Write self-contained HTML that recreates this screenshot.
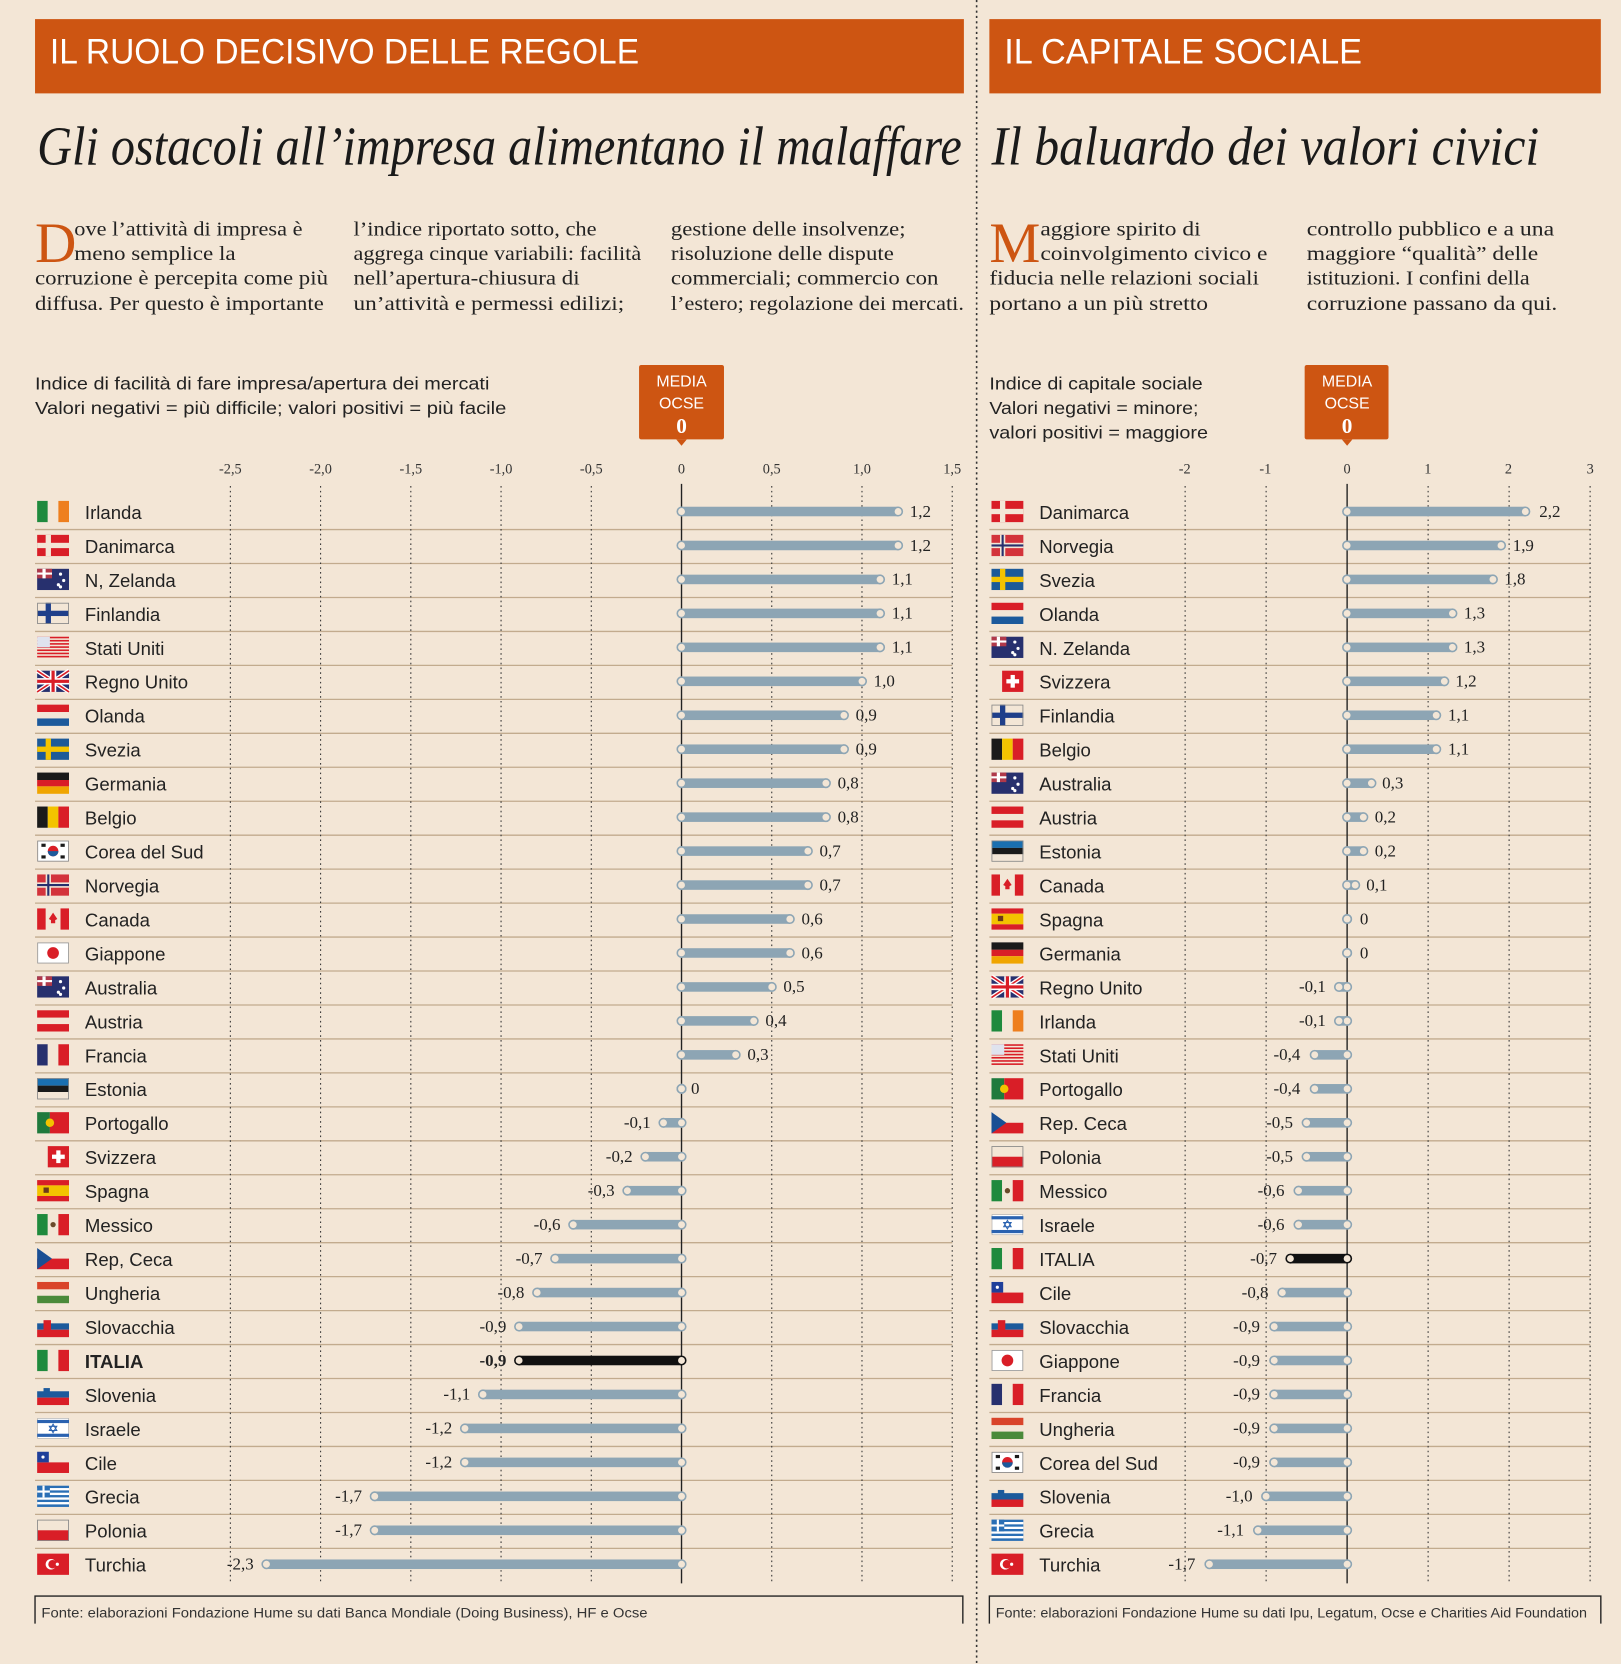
<!DOCTYPE html>
<html><head><meta charset="utf-8"><style>
html,body{margin:0;padding:0;background:#f3e6d6}
svg{display:block}
.h{font-family:"Liberation Sans",sans-serif;fill:#fff}
.t{font-family:"Liberation Serif",serif;font-style:italic;fill:#1a1a1a}
.p{font-family:"Liberation Serif",serif;font-size:19px;fill:#222}
.s{font-family:"Liberation Sans",sans-serif;font-size:16.5px;fill:#222}
.c{font-family:"Liberation Sans",sans-serif;font-size:17.5px;fill:#222}
.v{font-family:"Liberation Serif",serif;font-size:16px;fill:#222}
.k{font-family:"Liberation Serif",serif;font-size:13.5px;fill:#333;text-anchor:middle}
.f{font-family:"Liberation Sans",sans-serif;font-size:13px;fill:#333}
</style></head><body>
<svg id="g" width="1621" height="1664" viewBox="0 0 1527 1568" preserveAspectRatio="none" xmlns="http://www.w3.org/2000/svg">
<rect width="1527" height="1568" fill="#f3e6d6"/>
<line x1="920" y1="0" x2="920" y2="1568" stroke="#333" stroke-width="1.5" stroke-dasharray="2,3"/>
<rect x="33" y="18" width="875" height="70" fill="#cd5512"/>
<rect x="932" y="18" width="576" height="70" fill="#cd5512"/>
<text class="h" x="47" y="60" font-size="33" textLength="555" lengthAdjust="spacingAndGlyphs">IL RUOLO DECISIVO DELLE REGOLE</text>
<text class="h" x="946" y="60" font-size="33" textLength="337" lengthAdjust="spacingAndGlyphs">IL CAPITALE SOCIALE</text>
<text class="t" x="35" y="155" font-size="52" textLength="871" lengthAdjust="spacingAndGlyphs">Gli ostacoli all’impresa alimentano il malaffare</text>
<text class="t" x="934" y="155" font-size="52" textLength="516" lengthAdjust="spacingAndGlyphs">Il baluardo dei valori civici</text>

<text x="33" y="247" font-family="Liberation Serif,serif" font-size="54" fill="#cd5512">D</text>
<text class="p" x="70" y="222" textLength="215" lengthAdjust="spacingAndGlyphs">ove l’attività di impresa è</text>
<text class="p" x="70" y="245" textLength="152" lengthAdjust="spacingAndGlyphs">meno semplice la</text>
<text class="p" x="33" y="268" textLength="276" lengthAdjust="spacingAndGlyphs">corruzione è percepita come più</text>
<text class="p" x="33" y="292" textLength="272" lengthAdjust="spacingAndGlyphs">diffusa. Per questo è importante</text>
<text class="p" x="333" y="222" textLength="229" lengthAdjust="spacingAndGlyphs">l’indice riportato sotto, che</text>
<text class="p" x="333" y="245" textLength="271" lengthAdjust="spacingAndGlyphs">aggrega cinque variabili: facilità</text>
<text class="p" x="333" y="268" textLength="213" lengthAdjust="spacingAndGlyphs">nell’apertura-chiusura di</text>
<text class="p" x="333" y="292" textLength="255" lengthAdjust="spacingAndGlyphs">un’attività e permessi edilizi;</text>
<text class="p" x="632" y="222" textLength="221" lengthAdjust="spacingAndGlyphs">gestione delle insolvenze;</text>
<text class="p" x="632" y="245" textLength="210" lengthAdjust="spacingAndGlyphs">risoluzione delle dispute</text>
<text class="p" x="632" y="268" textLength="252" lengthAdjust="spacingAndGlyphs">commerciali; commercio con</text>
<text class="p" x="632" y="292" textLength="276" lengthAdjust="spacingAndGlyphs">l’estero; regolazione dei mercati.</text>

<text x="932" y="247" font-family="Liberation Serif,serif" font-size="54" fill="#cd5512">M</text>
<text class="p" x="980" y="222" textLength="151" lengthAdjust="spacingAndGlyphs">aggiore spirito di</text>
<text class="p" x="980" y="245" textLength="214" lengthAdjust="spacingAndGlyphs">coinvolgimento civico e</text>
<text class="p" x="932" y="268" textLength="254" lengthAdjust="spacingAndGlyphs">fiducia nelle relazioni sociali</text>
<text class="p" x="932" y="292" textLength="206" lengthAdjust="spacingAndGlyphs">portano a un più stretto</text>
<text class="p" x="1231" y="222" textLength="233" lengthAdjust="spacingAndGlyphs">controllo pubblico e a una</text>
<text class="p" x="1231" y="245" textLength="218" lengthAdjust="spacingAndGlyphs">maggiore “qualità” delle</text>
<text class="p" x="1231" y="268" textLength="210" lengthAdjust="spacingAndGlyphs">istituzioni. I confini della</text>
<text class="p" x="1231" y="292" textLength="236" lengthAdjust="spacingAndGlyphs">corruzione passano da qui.</text>

<text class="s" x="33" y="367" textLength="428" lengthAdjust="spacingAndGlyphs">Indice di facilità di fare impresa/apertura dei mercati</text>
<text class="s" x="33" y="390" textLength="444" lengthAdjust="spacingAndGlyphs">Valori negativi = più difficile; valori positivi = più facile</text>
<text class="s" x="932" y="367" textLength="201" lengthAdjust="spacingAndGlyphs">Indice di capitale sociale</text>
<text class="s" x="932" y="390" textLength="197" lengthAdjust="spacingAndGlyphs">Valori negativi = minore;</text>
<text class="s" x="932" y="413" textLength="206" lengthAdjust="spacingAndGlyphs">valori positivi = maggiore</text>

<g>
<rect x="602" y="344" width="80" height="70" rx="2" fill="#cd5512"/><path d="M637 414 L642 420 L647 414Z" fill="#cd5512"/>
<text x="642" y="364" font-family="Liberation Sans,sans-serif" font-size="15" fill="#fff" text-anchor="middle">MEDIA</text>
<text x="642" y="385" font-family="Liberation Sans,sans-serif" font-size="15" fill="#fff" text-anchor="middle">OCSE</text>
<text x="642" y="408" font-family="Liberation Serif,serif" font-size="20" font-weight="bold" fill="#fff" text-anchor="middle">0</text>
<rect x="1229" y="344" width="79" height="70" rx="2" fill="#cd5512"/><path d="M1264 414 L1269 420 L1274 414Z" fill="#cd5512"/>
<text x="1269" y="364" font-family="Liberation Sans,sans-serif" font-size="15" fill="#fff" text-anchor="middle">MEDIA</text>
<text x="1269" y="385" font-family="Liberation Sans,sans-serif" font-size="15" fill="#fff" text-anchor="middle">OCSE</text>
<text x="1269" y="408" font-family="Liberation Serif,serif" font-size="20" font-weight="bold" fill="#fff" text-anchor="middle">0</text>
</g>

<text class="k" x="217" y="446">-2,5</text><text class="k" x="302" y="446">-2,0</text><text class="k" x="387" y="446">-1,5</text><text class="k" x="472" y="446">-1,0</text><text class="k" x="557" y="446">-0,5</text><text class="k" x="642" y="446">0</text><text class="k" x="727" y="446">0,5</text><text class="k" x="812" y="446">1,0</text><text class="k" x="897" y="446">1,5</text>
<text class="k" x="1116" y="446">-2</text><text class="k" x="1192" y="446">-1</text><text class="k" x="1269" y="446">0</text><text class="k" x="1345" y="446">1</text><text class="k" x="1421" y="446">2</text><text class="k" x="1498" y="446">3</text>

<g id="L">
<text class="c" x="80" y="489">Irlanda</text><text class="c" x="80" y="521">Danimarca</text><text class="c" x="80" y="553">N, Zelanda</text><text class="c" x="80" y="585">Finlandia</text><text class="c" x="80" y="617">Stati Uniti</text><text class="c" x="80" y="649">Regno Unito</text><text class="c" x="80" y="681">Olanda</text><text class="c" x="80" y="713">Svezia</text><text class="c" x="80" y="745">Germania</text><text class="c" x="80" y="777">Belgio</text><text class="c" x="80" y="809">Corea del Sud</text><text class="c" x="80" y="841">Norvegia</text><text class="c" x="80" y="873">Canada</text><text class="c" x="80" y="905">Giappone</text><text class="c" x="80" y="937">Australia</text><text class="c" x="80" y="969">Austria</text><text class="c" x="80" y="1001">Francia</text><text class="c" x="80" y="1033">Estonia</text><text class="c" x="80" y="1065">Portogallo</text><text class="c" x="80" y="1097">Svizzera</text><text class="c" x="80" y="1129">Spagna</text><text class="c" x="80" y="1161">Messico</text><text class="c" x="80" y="1193">Rep, Ceca</text><text class="c" x="80" y="1225">Ungheria</text><text class="c" x="80" y="1257">Slovacchia</text><text class="c" x="80" y="1289" font-weight="bold">ITALIA</text><text class="c" x="80" y="1321">Slovenia</text><text class="c" x="80" y="1353">Israele</text><text class="c" x="80" y="1385">Cile</text><text class="c" x="80" y="1417">Grecia</text><text class="c" x="80" y="1449">Polonia</text><text class="c" x="80" y="1481">Turchia</text>
</g>
<g id="R">
<text class="c" x="979" y="489">Danimarca</text><text class="c" x="979" y="521">Norvegia</text><text class="c" x="979" y="553">Svezia</text><text class="c" x="979" y="585">Olanda</text><text class="c" x="979" y="617">N. Zelanda</text><text class="c" x="979" y="649">Svizzera</text><text class="c" x="979" y="681">Finlandia</text><text class="c" x="979" y="713">Belgio</text><text class="c" x="979" y="745">Australia</text><text class="c" x="979" y="777">Austria</text><text class="c" x="979" y="809">Estonia</text><text class="c" x="979" y="841">Canada</text><text class="c" x="979" y="873">Spagna</text><text class="c" x="979" y="905">Germania</text><text class="c" x="979" y="937">Regno Unito</text><text class="c" x="979" y="969">Irlanda</text><text class="c" x="979" y="1001">Stati Uniti</text><text class="c" x="979" y="1033">Portogallo</text><text class="c" x="979" y="1065">Rep. Ceca</text><text class="c" x="979" y="1097">Polonia</text><text class="c" x="979" y="1129">Messico</text><text class="c" x="979" y="1161">Israele</text><text class="c" x="979" y="1193">ITALIA</text><text class="c" x="979" y="1225">Cile</text><text class="c" x="979" y="1257">Slovacchia</text><text class="c" x="979" y="1289">Giappone</text><text class="c" x="979" y="1321">Francia</text><text class="c" x="979" y="1353">Ungheria</text><text class="c" x="979" y="1385">Corea del Sud</text><text class="c" x="979" y="1417">Slovenia</text><text class="c" x="979" y="1449">Grecia</text><text class="c" x="979" y="1481">Turchia</text>
</g>
<g id="LV">
<text class="v" x="857" y="487">1,2</text><text class="v" x="857" y="519">1,2</text><text class="v" x="840" y="551">1,1</text><text class="v" x="840" y="583">1,1</text><text class="v" x="840" y="615">1,1</text><text class="v" x="823" y="647">1,0</text><text class="v" x="806" y="679">0,9</text><text class="v" x="806" y="711">0,9</text><text class="v" x="789" y="743">0,8</text><text class="v" x="789" y="775">0,8</text><text class="v" x="772" y="807">0,7</text><text class="v" x="772" y="839">0,7</text><text class="v" x="755" y="871">0,6</text><text class="v" x="755" y="903">0,6</text><text class="v" x="738" y="935">0,5</text><text class="v" x="721" y="967">0,4</text><text class="v" x="704" y="999">0,3</text><text class="v" x="651" y="1031">0</text>
<g text-anchor="end"><text class="v" x="613" y="1063">-0,1</text><text class="v" x="596" y="1095">-0,2</text><text class="v" x="579" y="1127">-0,3</text><text class="v" x="528" y="1159">-0,6</text><text class="v" x="511" y="1191">-0,7</text><text class="v" x="494" y="1223">-0,8</text><text class="v" x="477" y="1255">-0,9</text><text class="v" x="477" y="1287" font-weight="bold">-0,9</text><text class="v" x="443" y="1319">-1,1</text><text class="v" x="426" y="1351">-1,2</text><text class="v" x="426" y="1383">-1,2</text><text class="v" x="341" y="1415">-1,7</text><text class="v" x="341" y="1447">-1,7</text><text class="v" x="239" y="1479">-2,3</text></g>
</g>
<g id="RV">
<text class="v" x="1450" y="487">2,2</text><text class="v" x="1425" y="519">1,9</text><text class="v" x="1417" y="551">1,8</text><text class="v" x="1379" y="583">1,3</text><text class="v" x="1379" y="615">1,3</text><text class="v" x="1371" y="647">1,2</text><text class="v" x="1364" y="679">1,1</text><text class="v" x="1364" y="711">1,1</text><text class="v" x="1302" y="743">0,3</text><text class="v" x="1295" y="775">0,2</text><text class="v" x="1295" y="807">0,2</text><text class="v" x="1287" y="839">0,1</text><text class="v" x="1281" y="871">0</text><text class="v" x="1281" y="903">0</text>
<g text-anchor="end"><text class="v" x="1249" y="935">-0,1</text><text class="v" x="1249" y="967">-0,1</text><text class="v" x="1225" y="999">-0,4</text><text class="v" x="1225" y="1031">-0,4</text><text class="v" x="1218" y="1063">-0,5</text><text class="v" x="1218" y="1095">-0,5</text><text class="v" x="1210" y="1127">-0,6</text><text class="v" x="1210" y="1159">-0,6</text><text class="v" x="1203" y="1191">-0,7</text><text class="v" x="1195" y="1223">-0,8</text><text class="v" x="1187" y="1255">-0,9</text><text class="v" x="1187" y="1287">-0,9</text><text class="v" x="1187" y="1319">-0,9</text><text class="v" x="1187" y="1351">-0,9</text><text class="v" x="1187" y="1383">-0,9</text><text class="v" x="1180" y="1415">-1,0</text><text class="v" x="1172" y="1447">-1,1</text><text class="v" x="1126" y="1479">-1,7</text></g>
</g>

<path d="M33 1530 V1504 H907 V1530 M932 1530 V1504 H1508 V1530" fill="none" stroke="#222" stroke-width="1.3"/>
<text class="f" x="39" y="1524" textLength="571" lengthAdjust="spacingAndGlyphs">Fonte: elaborazioni Fondazione Hume su dati Banca Mondiale (Doing Business), HF e Ocse</text>
<text class="f" x="938" y="1524" textLength="557" lengthAdjust="spacingAndGlyphs">Fonte: elaborazioni Fondazione Hume su dati Ipu, Legatum, Ocse e Charities Aid Foundation</text>
<g id="dyn"></g>
</svg>
<script>
var NS="http://www.w3.org/2000/svg",D=document.getElementById("dyn");
function el(t,a){var e=document.createElementNS(NS,t);for(var k in a)e.setAttribute(k,a[k]);D.appendChild(e);return e}
function r(x,y,w,h,c){el("rect",{x:x,y:y,width:w,height:h,fill:c})}
function ol(x,y){el("rect",{x:x+.4,y:y+.4,width:29.2,height:19.2,fill:"none",stroke:"#888","stroke-width":.8})}
var RD="#d91e27",BL="#1c5a9c",NV="#27306e",GR="#1f8a3d",YL="#f3c300",BK="#1a1a1a",W="#f3e6d6";
function vt(x,y,a,b,c){r(x,y,10,20,a);r(x+10,y,10,20,b);r(x+20,y,10,20,c)}
function ht(x,y,a,b,c){r(x,y,30,7,a);r(x,y+7,30,6,b);r(x,y+13,30,7,c)}
function cross(x,y,bg,cr,in_){r(x,y,30,20,bg);r(x+8,y,5,20,cr);r(x,y+7.5,30,5,cr);if(in_){r(x+9.5,y,2,20,in_);r(x,y+9,30,2,in_)}}
function flag(n,x,y){switch(n){
case"Irlanda":vt(x,y,GR,W,"#ee7f1e");break;
case"ITALIA":vt(x,y,GR,W,RD);break;
case"Belgio":vt(x,y,BK,YL,RD);break;
case"Francia":vt(x,y,NV,W,RD);break;
case"Messico":vt(x,y,GR,W,RD);el("circle",{cx:x+15,cy:y+10,r:2.5,fill:"#6b4a2a"});break;
case"Olanda":ht(x,y,RD,W,BL);break;
case"Germania":ht(x,y,BK,RD,"#f0a500");break;
case"Austria":ht(x,y,RD,W,RD);break;
case"Estonia":ht(x,y,"#1a6fb0",BK,W);ol(x,y);break;
case"Ungheria":ht(x,y,"#d9442a",W,"#4a8a3a");break;
case"Slovenia":ht(x,y,W,BL,RD);r(x+6,y+4,6,8,BL);break;
case"Slovacchia":ht(x,y,W,BL,RD);r(x+6,y+4,7,10,RD);break;
case"Polonia":r(x,y+10,30,10,RD);ol(x,y);break;
case"Danimarca":cross(x,y,RD,W);break;
case"Norvegia":cross(x,y,"#d3333b",W,NV);break;
case"Svezia":cross(x,y,"#1d5a98",YL);break;
case"Finlandia":cross(x,y,W,"#1f3f8a");ol(x,y);break;
case"Stati Uniti":for(var i=0;i<7;i++)r(x,y+i*3,30,1.5,RD);r(x,y,12,10,"#dfe3ee");break;
case"Regno Unito":r(x,y,30,20,"#27306e");el("path",{d:"M"+x+" "+y+"L"+(x+30)+" "+(y+20)+"M"+(x+30)+" "+y+"L"+x+" "+(y+20),stroke:"#fff","stroke-width":4});el("path",{d:"M"+x+" "+y+"L"+(x+30)+" "+(y+20)+"M"+(x+30)+" "+y+"L"+x+" "+(y+20),stroke:RD,"stroke-width":1.5});r(x+12,y,6,20,"#fff");r(x,y+7,30,6,"#fff");r(x+13.5,y,3,20,RD);r(x,y+8.5,30,3,RD);break;
case"N, Zelanda":case"N. Zelanda":case"Australia":r(x,y,30,20,"#27306e");r(x,y,14,9,"#b0394a");r(x+5,y,3,9,"#fff");r(x,y+3.5,14,2,"#fff");[[22,5],[25,11],[20,15],[22,17]].forEach(function(p){el("circle",{cx:x+p[0],cy:y+p[1],r:1.5,fill:"#fff"})});break;
case"Corea del Sud":el("rect",{x:x+.5,y:y+.5,width:29,height:19,fill:"#fff",stroke:"#888","stroke-width":.8});el("circle",{cx:x+15,cy:y+10,r:5,fill:RD});el("path",{d:"M"+(x+10)+" "+(y+10)+"a5 5 0 0 0 10 0z",fill:BL});r(x+4,y+3,4,3,BK);r(x+22,y+3,4,3,BK);r(x+4,y+14,4,3,BK);r(x+22,y+14,4,3,BK);break;
case"Canada":r(x,y,8,20,RD);r(x+22,y,8,20,RD);el("path",{d:"M"+(x+15)+" "+(y+4)+"l4 6-2 1v3h-4v-3l-2-1z",fill:RD});break;
case"Giappone":el("rect",{x:x+.5,y:y+.5,width:29,height:19,fill:"#fff",stroke:"#999","stroke-width":.8});el("circle",{cx:x+15,cy:y+10,r:5.5,fill:RD});break;
case"Svizzera":r(x+10,y,20,20,RD);r(x+18,y+4,4,12,"#fff");r(x+14,y+8,12,4,"#fff");break;
case"Spagna":r(x,y,30,5,RD);r(x,y+5,30,10,YL);r(x,y+15,30,5,RD);r(x+6,y+7,5,5,"#6b3a1a");break;
case"Portogallo":r(x,y,12,20,"#1f7a3d");r(x+12,y,18,20,RD);el("circle",{cx:x+12,cy:y+10,r:4,fill:YL});break;
case"Rep, Ceca":case"Rep. Ceca":r(x,y,30,10,W);r(x,y+10,30,10,RD);el("path",{d:"M"+x+" "+y+"L"+(x+14)+" "+(y+10)+"L"+x+" "+(y+20)+"Z",fill:"#1a4f94"});break;
case"Israele":el("rect",{x:x+.5,y:y+.5,width:29,height:19,fill:"#fff",stroke:"#aaa","stroke-width":.6});r(x,y+2,30,3,"#2a62b0");r(x,y+15,30,3,"#2a62b0");el("path",{d:"M"+(x+15)+" "+(y+6)+"l3.5 6h-7zM"+(x+15)+" "+(y+14)+"l3.5-6h-7z",fill:"none",stroke:"#2a62b0","stroke-width":1});break;
case"Cile":r(x,y,30,10,W);r(x,y+10,30,10,RD);r(x,y,11,10,"#1f3f9a");el("circle",{cx:x+5.5,cy:y+5,r:1.5,fill:"#fff"});break;
case"Grecia":r(x,y,30,20,"#2a6fb5");for(var i=0;i<4;i++)r(x,y+2.2+i*4.4,30,2.2,"#fff");r(x,y,12,11,"#2a6fb5");r(x+5,y,2,11,"#fff");r(x,y+4.5,12,2,"#fff");break;
case"Turchia":r(x,y,30,20,RD);el("circle",{cx:x+13,cy:y+10,r:5,fill:"#fff"});el("circle",{cx:x+14.5,cy:y+10,r:4,fill:RD});el("circle",{cx:x+19,cy:y+10,r:1.5,fill:"#fff"});break;
}}
function chart(g,x0,x1,z,u,ticks,vals,flagX){
 for(var i=0;i<31;i++)el("line",{x1:33+(g=="R"?899:0),y1:499+32*i,x2:x1,y2:499+32*i,stroke:"#c2ab8e","stroke-width":1.2});
 ticks.forEach(function(t){if(t!=0)el("line",{x1:z+t*u,y1:458,x2:z+t*u,y2:1490,stroke:"#333","stroke-width":1,"stroke-dasharray":"1.5,3"})});
 el("line",{x1:z,y1:456,x2:z,y2:1492,stroke:"#222","stroke-width":1.3});
 var names=document.getElementById(g).children;
 for(var i=0;i<names.length;i++){var cy=482+32*i;flag(names[i].textContent,flagX,cy-10);
  var v=vals[i],xe=z+v*u,it=names[i].textContent=="ITALIA";
  var a=Math.min(z,xe),b=Math.max(z,xe);
  el("rect",{x:a,y:cy-4.5,width:b-a,height:9,fill:it?"#111":"#8da5b4"});
  [z,xe].forEach(function(xx){el("circle",{cx:xx,cy:cy,r:4,fill:"#f3e6d6",stroke:it?"#111":"#8da5b4","stroke-width":1.5})});
 }}
chart("L",33,897,642,170,[-2.5,-2,-1.5,-1,-.5,0,.5,1,1.5],[1.2,1.2,1.1,1.1,1.1,1.0,.9,.9,.8,.8,.7,.7,.6,.6,.5,.4,.3,0,-.1,-.2,-.3,-.6,-.7,-.8,-.9,-.9,-1.1,-1.2,-1.2,-1.7,-1.7,-2.3],35);
chart("R",932,1498,1269,76.3,[-2,-1,0,1,2,3],[2.2,1.9,1.8,1.3,1.3,1.2,1.1,1.1,.3,.2,.2,.1,0,0,-.1,-.1,-.4,-.4,-.5,-.5,-.6,-.6,-.7,-.8,-.9,-.9,-.9,-.9,-.9,-1.0,-1.1,-1.7],934);
</script>
</body></html>
